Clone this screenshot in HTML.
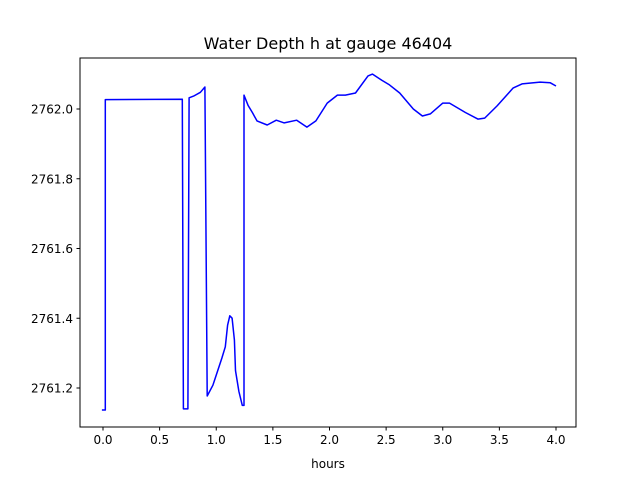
<!DOCTYPE html>
<html><head><meta charset="utf-8"><style>
body{margin:0;background:#fff;}
svg text{font-family:"DejaVu Sans","Liberation Sans",sans-serif;fill:#000;}
</style></head><body>
<svg width="640" height="480" xmlns="http://www.w3.org/2000/svg">
<rect width="640" height="480" fill="#fff"/>
<text x="328" y="49" font-size="16" text-anchor="middle">Water Depth h at gauge 46404</text>
<g id="axes"></g>
<text x="328" y="468" font-size="12" text-anchor="middle">hours</text>
</svg>
<script>
const times=[-0.01,0.02,0.02,0.70,0.71,0.75,0.76,0.80,0.86,0.90,0.92,0.97,1.05,1.08,1.10,1.12,1.14,1.16,1.17,1.20,1.23,1.245,1.245,1.28,1.32,1.36,1.45,1.53,1.60,1.71,1.80,1.88,1.98,2.07,2.14,2.23,2.34,2.38,2.46,2.53,2.62,2.74,2.82,2.89,3.00,3.06,3.20,3.31,3.37,3.48,3.62,3.70,3.86,3.95,4.00];
const depth=[2761.137,2761.137,2762.027,2762.028,2761.14,2761.14,2762.032,2762.037,2762.048,2762.063,2761.177,2761.208,2761.286,2761.318,2761.38,2761.407,2761.40,2761.338,2761.25,2761.19,2761.15,2761.15,2762.04,2762.011,2761.989,2761.966,2761.954,2761.968,2761.96,2761.968,2761.948,2761.966,2762.017,2762.04,2762.04,2762.046,2762.095,2762.10,2762.083,2762.069,2762.046,2762.0,2761.98,2761.986,2762.017,2762.017,2761.99,2761.971,2761.974,2762.009,2762.06,2762.072,2762.077,2762.075,2762.066];
const xTicks=[0,0.5,1,1.5,2,2.5,3,3.5,4];
const xTickLabels=["0.0","0.5","1.0","1.5","2.0","2.5","3.0","3.5","4.0"];
const yTicks=[2761.2,2761.4,2761.6,2761.8,2762.0];
const yTickLabels=["2761.2","2761.4","2761.6","2761.8","2762.0"];
const L=80,R=576,T=58,B=427;
const xs=t=>103+113.25*t;
const ys=v=>109-(v-2762)*348.75;
const NS="http://www.w3.org/2000/svg";
const g=document.getElementById('axes');
function mk(tag,a){const e=document.createElementNS(NS,tag);for(const k in a)e.setAttribute(k,a[k]);g.appendChild(e);return e;}
const line=mk('polyline',{points:times.map((t,i)=>xs(t).toFixed(1)+','+ys(depth[i]).toFixed(1)).join(' '),fill:'none',stroke:'#0000ff','stroke-width':1.5,'stroke-linejoin':'round'});


const frame=mk('rect',{x:L,y:T,width:R-L,height:B-T,fill:'none',stroke:'#000','stroke-width':1});


xTicks.forEach((t,i)=>{const x=xs(t);
const tk=mk('line',{x1:x,x2:x,y1:B,y2:B+3.5,stroke:'#000'});


const tx=mk('text',{x:x,y:B+17,'font-size':12,'text-anchor':'middle'});tx.textContent=xTickLabels[i];

});
yTicks.forEach((v,i)=>{const y=ys(v);
const tk=mk('line',{x1:L-3.5,x2:L,y1:y,y2:y,stroke:'#000'});


const tx=mk('text',{x:L-7,y:y+4.5,'font-size':12,'text-anchor':'end'});tx.textContent=yTickLabels[i];

});
</script>
</body></html>
